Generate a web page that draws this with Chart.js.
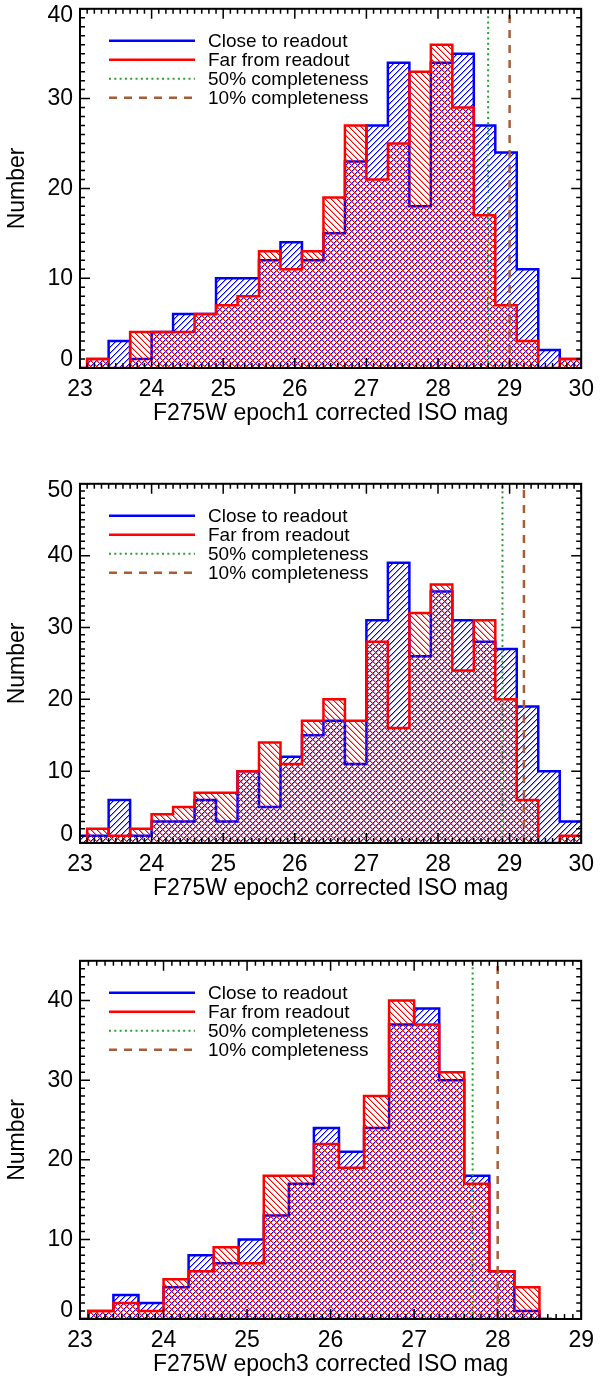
<!DOCTYPE html>
<html>
<head>
<meta charset="utf-8">
<script src="https://cdn.jsdelivr.net/npm/chart.js@4.4.1/dist/chart.umd.min.js"></script>
<style>
  html, body { margin: 0; padding: 0; background: #fff; overflow: hidden; }
  body { width: 602px; height: 1379px; position: relative; }
  canvas { position: absolute; left: 0; }
</style>
</head>
<body>
<canvas id="c1" width="602" height="443" style="top:-12px"></canvas>
<canvas id="c2" width="602" height="443" style="top:463px"></canvas>
<canvas id="c3" width="602" height="442" style="top:940px"></canvas>
<script>
// bin edges in mag (last entry closes the last bin)
const edgesEp12 = [22.8, 23.1, 23.4, 23.7, 24.0, 24.3, 24.6, 24.9, 25.2, 25.5, 25.8, 26.1,
  26.4, 26.7, 27.0, 27.3, 27.6, 27.9, 28.2, 28.5, 28.8, 29.1, 29.4, 29.7, 30.0];
const edgesEp3 = [22.8, 23.1, 23.4, 23.7, 24.0, 24.3, 24.6, 24.9, 25.2, 25.5, 25.8, 26.1,
  26.4, 26.7, 27.0, 27.3, 27.6, 27.9, 28.2, 28.5, 28.65];

// counts per bin
const closeEp1 = [0, 1, 3, 1, 4, 6, 6, 10, 10, 12, 14, 12, 15, 23, 27, 34, 18, 34, 35, 27, 24, 11, 2, 1];
const farEp1   = [0, 1, 0, 4, 4, 4, 6, 7, 8, 13, 11, 13, 19, 27, 21, 25, 33, 36, 29, 17, 7, 3, 0, 1];
const closeEp2 = [1, 1, 6, 1, 3, 3, 6, 3, 10, 5, 12, 15, 17, 11, 31, 39, 26, 35, 31, 28, 27, 19, 10, 3];
const farEp2   = [0, 2, 1, 2, 4, 5, 7, 7, 10, 14, 11, 17, 20, 17, 28, 16, 32, 36, 24, 31, 20, 6, 0, 1];
const closeEp3 = [0, 1, 3, 2, 4, 8, 7, 10, 13, 17, 24, 21, 24, 37, 39, 30, 18, 6, 1, 0];
const farEp3   = [0, 1, 2, 1, 5, 6, 9, 7, 18, 18, 22, 19, 28, 40, 37, 31, 17, 6, 4, 0];

// completeness limits per epoch
const comp50 = [28.7, 28.9, 27.7];
const comp10 = [29.0, 29.2, 28.0];

const xTitles = ['F275W epoch1 corrected ISO mag', 'F275W epoch2 corrected ISO mag', 'F275W epoch3 corrected ISO mag'];
const xMax = [30, 30, 29];
const yMax = [40, 50, 45];
const legendLabels = ['Close to readout', 'Far from readout', '50% completeness', '10% completeness'];

Chart.defaults.font.family = '"Liberation Sans", Arial, sans-serif';
Chart.defaults.color = '#000';

// hatch tile: one solid pixel per row plus a soft neighbour
function hatch(ctx, rgb, dir) {
  const s = 6;
  const c = document.createElement('canvas');
  c.width = s; c.height = s;
  const g = c.getContext('2d');
  const img = g.createImageData(s, s);
  for (let j = 0; j < s; j++) {
    for (let i = 0; i < s; i++) {
      const d = dir > 0 ? (i + j) % s : (i - j + s) % s;
      const alpha = d === 0 ? 255 : d === 1 ? 110 : 0;
      if (!alpha) continue;
      const p = (j * s + i) * 4;
      img.data[p] = rgb[0]; img.data[p + 1] = rgb[1]; img.data[p + 2] = rgb[2]; img.data[p + 3] = alpha;
    }
  }
  g.putImageData(img, 0, 0);
  return ctx.createPattern(c, 'repeat');
}

function steps(edges, counts) {
  return edges.map((e, i) => ({ x: e, y: counts[Math.min(i, counts.length - 1)] }));
}

const idlFrame = {
  id: 'idlFrame',
  beforeDraw(chart) {
    // keep the end labels of the y axis inside the frame
    const y = chart.scales.y;
    y.getLabelItems(chart.chartArea).forEach(it => {
      const t = it.options.translation;
      if (Math.abs(t[1] - y.bottom) < 1) t[1] -= 8;
      else if (Math.abs(t[1] - y.top) < 1) t[1] += 7;
    });
  },
  afterDatasetsDraw(chart) {
    const { ctx, chartArea: a } = chart;
    const x = chart.scales.x, y = chart.scales.y;
    ctx.save();
    ctx.strokeStyle = '#000';
    ctx.lineWidth = 1.5;
    ctx.beginPath();
    for (let k = Math.round(x.min * 10); k <= Math.round(x.max * 10); k++) {
      const px = x.getPixelForValue(k / 10);
      const len = k % 10 === 0 ? 10 : 5;
      ctx.moveTo(px, a.bottom); ctx.lineTo(px, a.bottom - len);
      ctx.moveTo(px, a.top); ctx.lineTo(px, a.top + len);
    }
    for (let k = y.min; k <= y.max; k++) {
      const py = y.getPixelForValue(k);
      const len = k % 10 === 0 ? 10 : 5;
      ctx.moveTo(a.left, py); ctx.lineTo(a.left + len, py);
      ctx.moveTo(a.right, py); ctx.lineTo(a.right - len, py);
    }
    ctx.stroke();
    ctx.lineWidth = 2;
    ctx.strokeRect(a.left, a.top, a.right - a.left, a.bottom - a.top);

    // legend
    ctx.font = '19px "Liberation Sans", Arial, sans-serif';
    ctx.textBaseline = 'middle';
    ctx.fillStyle = '#000';
    chart.data.datasets.forEach((ds, i) => {
      const ly = a.top + 32 + 19 * i;
      ctx.beginPath();
      ctx.strokeStyle = ds.borderColor;
      ctx.lineWidth = ds.borderWidth;
      ctx.setLineDash(ds.borderDash || []);
      ctx.moveTo(a.left + 29, ly);
      ctx.lineTo(a.left + 115, ly);
      ctx.stroke();
      ctx.setLineDash([]);
      ctx.fillText(ds.label, a.left + 128, ly + 1);
    });
    ctx.restore();
  }
};

function makeChart(id, n, edges, close, far) {
  const ctx = document.getElementById(id).getContext('2d');
  return new Chart(ctx, {
    type: 'line',
    data: {
      datasets: [
        {
          label: legendLabels[0],
          data: steps(edges, close),
          stepped: 'before',
          borderColor: '#0000ff',
          borderWidth: 2.5,
          backgroundColor: hatch(ctx, [0, 0, 255], 1),
          fill: 'origin',
          pointRadius: 0,
          order: 3
        },
        {
          label: legendLabels[1],
          data: steps(edges, far),
          stepped: 'before',
          borderColor: '#ff0000',
          borderWidth: 2.5,
          backgroundColor: hatch(ctx, [255, 0, 0], -1),
          fill: 'origin',
          pointRadius: 0,
          order: 2
        },
        {
          label: legendLabels[2],
          data: [{ x: comp50[n], y: 0 }, { x: comp50[n], y: yMax[n] }],
          borderColor: '#2e9e2e',
          borderWidth: 2,
          borderDash: [2, 3.3],
          pointRadius: 0,
          fill: false,
          order: 1
        },
        {
          label: legendLabels[3],
          data: [{ x: comp10[n], y: 0 }, { x: comp10[n], y: yMax[n] }],
          borderColor: '#a85c38',
          borderWidth: 2.5,
          borderDash: [8, 7],
          pointRadius: 0,
          fill: false,
          order: 0
        }
      ]
    },
    options: {
      responsive: false,
      animation: false,
      layout: { padding: { top: 20, right: 14, left: 0, bottom: 0 } },
      plugins: { legend: { display: false }, tooltip: { enabled: false } },
      scales: {
        x: {
          type: 'linear',
          min: 23,
          max: xMax[n],
          grid: { display: false, drawTicks: false },
          border: { display: false },
          ticks: { stepSize: 1, padding: 8, font: { size: 23 }, maxRotation: 0 },
          title: { display: true, text: xTitles[n], font: { size: 23 }, padding: { top: 0, bottom: 4 } },
          afterFit: (s) => { s.height = 63; }
        },
        y: {
          min: 0,
          max: yMax[n],
          grid: { display: false, drawTicks: false },
          border: { display: false },
          ticks: { stepSize: 10, padding: 7, font: { size: 23 }, includeBounds: false },
          title: { display: true, text: 'Number', font: { size: 23 }, padding: { top: 4, bottom: 0 } },
          afterFit: (s) => { s.width = 80; }
        }
      }
    },
    plugins: [idlFrame]
  });
}

makeChart('c1', 0, edgesEp12, closeEp1, farEp1);
makeChart('c2', 1, edgesEp12, closeEp2, farEp2);
makeChart('c3', 2, edgesEp3, closeEp3, farEp3);
</script>
</body>
</html>
